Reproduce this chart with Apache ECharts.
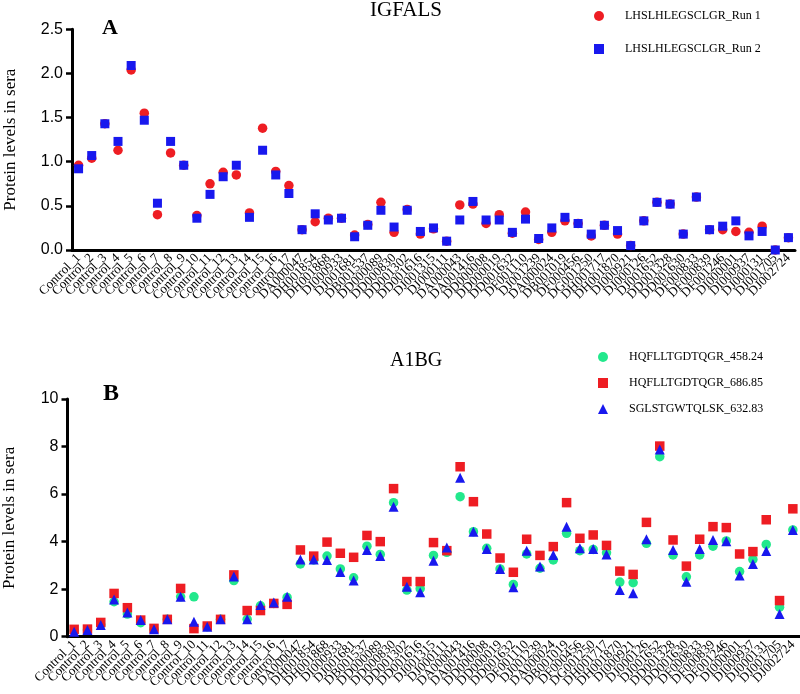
<!DOCTYPE html>
<html>
<head>
<meta charset="utf-8">
<script src="https://cdn.jsdelivr.net/npm/echarts@6/dist/echarts.min.js"></script>
<style>html,body{margin:0;padding:0;background:#fff}#c{width:800px;height:694px}</style>
</head>
<body>
<div id="c"></div>
<script>
var categories = ["Control_1","Control_2","Control_3","Control_4","Control_5","Control_6","Control_7","Control_8","Control_9","Control_10","Control_11","Control_12","Control_13","Control_14","Control_15","Control_16","Control_17","DA000047","DH001854","DH001868","DI000933","DJ001681","DB001537","DD000089","DD000830","DD001302","DD001616","DJ001315","DJ000111","DA000043","DA001416","DD000008","DD000019","DD001632","DF001110","DJ001239","DA000024","DB001019","DF000456","DG001250","DH001717","DH001870","DI000921","DJ000126","DJ001652","DD001328","DD001630","DF000833","DF000839","DF001246","DI000001","DI000937","DJ000131","DJ001705","DJ002724"];

var igfalsRun1 = [0.96,1.04,1.43,1.13,2.04,1.55,0.40,1.10,0.96,0.39,0.75,0.88,0.85,0.42,1.38,0.89,0.73,0.23,0.32,0.36,0.36,0.17,0.29,0.54,0.20,0.46,0.18,0.24,0.10,0.51,0.52,0.30,0.40,0.19,0.43,0.12,0.20,0.33,0.30,0.16,0.28,0.18,0.05,0.33,0.54,0.52,0.18,0.60,0.23,0.23,0.21,0.20,0.27,0.00,0.14];
var igfalsRun2 = [0.92,1.07,1.43,1.23,2.09,1.47,0.53,1.23,0.96,0.36,0.63,0.83,0.96,0.37,1.13,0.85,0.64,0.23,0.41,0.34,0.36,0.15,0.28,0.45,0.26,0.45,0.21,0.25,0.10,0.34,0.55,0.34,0.34,0.20,0.35,0.13,0.25,0.37,0.30,0.18,0.28,0.22,0.05,0.33,0.54,0.52,0.18,0.60,0.23,0.27,0.33,0.16,0.21,0.00,0.14];

var a1bg458 = [0.25,0.28,0.50,1.47,0.95,0.59,0.31,0.73,1.68,1.68,0.42,0.73,2.36,0.73,1.30,1.40,1.65,3.06,3.23,3.39,2.85,2.48,3.81,3.46,5.64,1.96,2.02,3.42,3.55,5.89,4.42,3.72,2.85,2.20,3.48,2.88,3.23,4.35,3.62,3.67,3.53,2.30,2.27,3.93,7.57,3.44,2.52,3.44,3.81,4.03,2.74,3.25,3.88,1.24,4.49];
var a1bg686 = [0.31,0.32,0.60,1.82,1.22,0.70,0.35,0.73,2.03,0.34,0.45,0.73,2.60,1.10,1.10,1.40,1.36,3.65,3.39,3.98,3.51,3.34,4.26,4.00,6.23,2.32,2.32,3.96,3.62,7.15,5.68,4.32,3.31,2.71,4.10,3.42,3.79,5.64,4.14,4.28,3.84,2.76,2.62,4.81,8.02,4.07,2.97,4.10,4.63,4.59,3.48,3.58,4.92,1.52,5.38];
var a1bg632 = [0.21,0.28,0.49,1.57,1.02,0.70,0.31,0.73,1.68,0.63,0.42,0.73,2.53,0.73,1.33,1.44,1.68,3.25,3.25,3.23,2.72,2.36,3.65,3.39,5.47,2.10,1.87,3.19,3.75,6.69,4.42,3.69,2.85,2.08,3.62,2.95,3.44,4.63,3.72,3.69,3.46,1.96,1.83,4.10,7.88,3.65,2.31,3.69,4.07,4.02,2.57,3.06,3.61,0.96,4.49];

var yTicksA = [0, 2.5, 0.5];
var yTicksB = [0, 10, 2];

var RED = '#EE1D23', BLUE = '#1818EE', GREEN = '#22E88C';
var serif = 'Liberation Serif', sans = 'Liberation Sans';

function xAxis(gi) {
  return {
    type: 'category', gridIndex: gi, data: categories, boundaryGap: true,
    axisLine: {lineStyle: {color: '#000', width: 3}},
    axisTick: {alignWithLabel: true, length: 6, lineStyle: {color: '#000', width: 2.5}},
    axisLabel: {interval: 0, rotate: 45, fontFamily: serif, fontSize: 13, color: '#000', margin: 6},
    splitLine: {show: false}
  };
}
function yAxis(gi, t, dec, fs, gap) {
  return {
    type: 'value', gridIndex: gi, min: t[0], max: t[1], interval: t[2],
    name: 'Protein levels in sera', nameLocation: 'middle', nameGap: gap,
    nameTextStyle: {fontFamily: serif, fontSize: 17, color: '#000'},
    axisLine: {show: true, lineStyle: {color: '#000', width: 3}},
    axisTick: {show: true, length: 6, lineStyle: {color: '#000', width: 2.5}},
    axisLabel: {fontFamily: sans, fontSize: fs, color: '#000', margin: 9,
      formatter: function (v) { return dec ? v.toFixed(1) : String(v); }},
    splitLine: {show: false}
  };
}

var chart = echarts.init(document.getElementById('c'));
chart.setOption({
  animation: false,
  backgroundColor: '#fff',
  grid: [
    {left: 72, top: 29.3, width: 723, height: 220.7, containLabel: false, outerBoundsMode: 'none'},
    {left: 67.5, top: 399, width: 732, height: 237.7, containLabel: false, outerBoundsMode: 'none'}
  ],
  xAxis: [xAxis(0), xAxis(1)],
  yAxis: [yAxis(0, yTicksA, true, 16, 53), yAxis(1, yTicksB, false, 16, 49)],
  legend: [
    {data: ['LHSLHLEGSCLGR_Run 1', 'LHSLHLEGSCLGR_Run 2'], orient: 'vertical', left: 589, top: 5,
     itemWidth: 10, itemHeight: 10, itemGap: 21,
     textStyle: {fontFamily: serif, fontSize: 12, color: '#000', padding: [0, 0, 0, 16]}},
    {data: ['HQFLLTGDTQGR_458.24', 'HQFLLTGDTQGR_686.85', 'SGLSTGWTQLSK_632.83'], orient: 'vertical', left: 593, top: 346,
     itemWidth: 10, itemHeight: 10, itemGap: 14,
     textStyle: {fontFamily: serif, fontSize: 12, color: '#000', padding: [0, 0, 0, 16]}}
  ],
  graphic: [
    {type: 'text', style: {x: 370, y: 10, text: 'IGFALS', font: '21px "Liberation Serif"', fill: '#000', verticalAlign: 'middle'}},
    {type: 'text', style: {x: 390, y: 361, text: 'A1BG', font: '20px "Liberation Serif"', fill: '#000', verticalAlign: 'middle'}},
    {type: 'text', style: {x: 102, y: 28, text: 'A', font: 'bold 22px "Liberation Serif"', fill: '#000', verticalAlign: 'middle'}},
    {type: 'text', style: {x: 103, y: 394, text: 'B', font: 'bold 24px "Liberation Serif"', fill: '#000', verticalAlign: 'middle'}}
  ],
  series: [
    {name: 'LHSLHLEGSCLGR_Run 1', type: 'scatter', xAxisIndex: 0, yAxisIndex: 0, data: igfalsRun1,
     symbol: 'circle', symbolSize: 9.5, itemStyle: {color: RED, opacity: 1}},
    {name: 'LHSLHLEGSCLGR_Run 2', type: 'scatter', xAxisIndex: 0, yAxisIndex: 0, data: igfalsRun2,
     symbol: 'rect', symbolSize: 9, itemStyle: {color: BLUE, opacity: 1}},
    {name: 'HQFLLTGDTQGR_458.24', type: 'scatter', xAxisIndex: 1, yAxisIndex: 1, data: a1bg458,
     symbol: 'circle', symbolSize: 9.5, itemStyle: {color: GREEN, opacity: 1}},
    {name: 'HQFLLTGDTQGR_686.85', type: 'scatter', xAxisIndex: 1, yAxisIndex: 1, data: a1bg686,
     symbol: 'rect', symbolSize: 9.5, itemStyle: {color: RED, opacity: 1}},
    {name: 'SGLSTGWTQLSK_632.83', type: 'scatter', xAxisIndex: 1, yAxisIndex: 1, data: a1bg632,
     symbol: 'triangle', symbolSize: 10, itemStyle: {color: BLUE, opacity: 1}}
  ]
});
</script>
</body>
</html>
